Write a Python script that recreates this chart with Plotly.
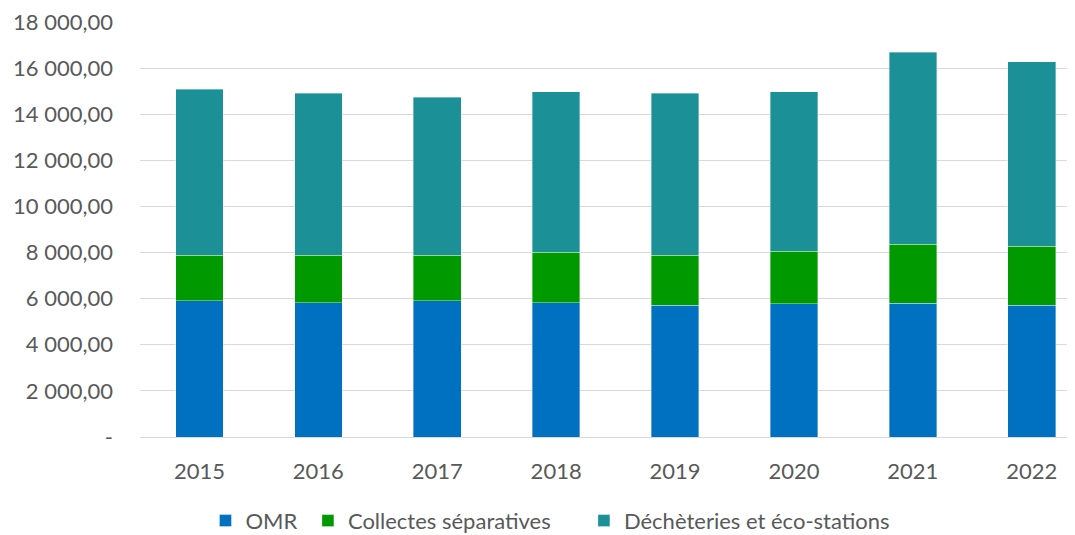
import plotly.graph_objects as go

years = ["2015", "2016", "2017", "2018", "2019", "2020", "2021", "2022"]
omr = [5900, 5820, 5900, 5820, 5710, 5770, 5810, 5710]
collectes = [1990, 2070, 1990, 2190, 2170, 2280, 2550, 2570]
decheteries = [7200, 7030, 6850, 6965, 7040, 6925, 8320, 8000]
series_names = ["OMR", "Collectes séparatives", "Déchèteries et éco-stations"]

tick_vals = [0, 2000, 4000, 6000, 8000, 10000, 12000, 14000, 16000, 18000]
tick_text = ["-", "2 000,00", "4 000,00", "6 000,00", "8 000,00", "10 000,00",
             "12 000,00", "14 000,00", "16 000,00", "18 000,00"]

font_family = "Lato"
txt_color = "#595959"
fs = 22

W, H = 1067, 527
ML, MR, MT, MB = 132, 0, 14, 98

colors = ["#0070C0", "#009900", "#1B9096"]
pads = [1, 5, 0]  # non-breaking spaces to widen legend gaps

fig = go.Figure()
for name, vals, col, pad in zip(series_names, [omr, collectes, decheteries], colors, pads):
    fig.add_trace(go.Bar(x=years, y=vals, name=name + "\u00a0" * pad, width=0.4,
                         marker=dict(color=col, line=dict(color="rgba(255,255,255,0.6)", width=0.6))))

fig.update_layout(
    barmode="stack",
    width=W, height=H,
    margin=dict(l=ML, r=MR, t=MT, b=MB),
    plot_bgcolor="white", paper_bgcolor="white",
    font=dict(family=font_family, size=fs, color=txt_color),
    legend=dict(orientation="h", x=0.439, xanchor="center", yref="container",
                y=0.027, yanchor="middle", bgcolor="rgba(0,0,0,0)",
                font=dict(family=font_family, size=fs, color=txt_color),
                traceorder="normal"),
    xaxis=dict(range=[-0.5, 7.364], showgrid=False, showline=True, linecolor="#D9D9D9",
               linewidth=1, ticks="", tickfont=dict(size=fs, color=txt_color),
               ticklabelstandoff=15),
    yaxis=dict(range=[0, 18000], tickvals=tick_vals, ticktext=tick_text,
               showgrid=True, gridcolor="#D9D9D9", gridwidth=1, zeroline=False,
               ticklabeloverflow="allow",
               tickfont=dict(size=fs, color=txt_color), ticklabelstandoff=26),
)

fig.write_html("out.html")
